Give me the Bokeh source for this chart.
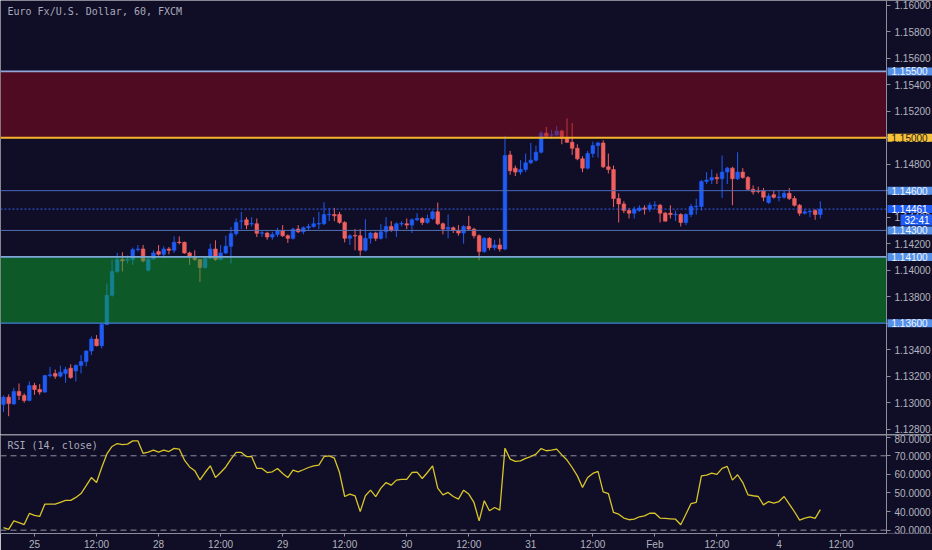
from bokeh.plotting import figure
from bokeh.models import (Range1d, FixedTicker, PrintfTickFormatter, Label,
                          ColumnDataSource)
from bokeh.layouts import column
from bokeh.embed import file_html
from bokeh.resources import INLINE

# ---------------- data (EUR/USD, 60 min, FXCM) ----------------
opens = [1.12987, 1.13042, 1.12990, 1.13085, 1.13055, 1.13017, 1.13130, 1.13100, 1.13080, 1.13205,
         1.13220, 1.13200, 1.13220, 1.13260, 1.13240, 1.13280, 1.13310, 1.13390, 1.13480, 1.13430,
         1.13590, 1.13810, 1.13990, 1.14080, 1.14075, 1.14080, 1.14155, 1.14160, 1.14000, 1.14085,
         1.14140, 1.14120, 1.14160, 1.14150, 1.14212, 1.14210, 1.14130, 1.14100, 1.14080, 1.14020,
         1.14090, 1.14160, 1.14080, 1.14130, 1.14180, 1.14275, 1.14370, 1.14380, 1.14348, 1.14350,
         1.14278, 1.14280, 1.14250, 1.14270, 1.14300, 1.14260, 1.14240, 1.14310, 1.14290, 1.14320,
         1.14330, 1.14348, 1.14350, 1.14418, 1.14420, 1.14420, 1.14360, 1.14240, 1.14262, 1.14260,
         1.14150, 1.14240, 1.14280, 1.14240, 1.14290, 1.14330, 1.14300, 1.14348, 1.14350, 1.14340,
         1.14380, 1.14390, 1.14360, 1.14390, 1.14440, 1.14350, 1.14310, 1.14320, 1.14300, 1.14280,
         1.14330, 1.14310, 1.14260, 1.14140, 1.14240, 1.14170, 1.14190, 1.14160, 1.14870, 1.14770,
         1.14740, 1.14760, 1.14810, 1.14830, 1.14890, 1.15035, 1.15018, 1.15020, 1.15050, 1.14995,
         1.14965, 1.14920, 1.14840, 1.14770, 1.14880, 1.14940, 1.14960, 1.14780, 1.14760, 1.14540,
         1.14500, 1.14450, 1.14430, 1.14450, 1.14470, 1.14460, 1.14488, 1.14490, 1.14430, 1.14430,
         1.14418, 1.14420, 1.14360, 1.14420, 1.14478, 1.14480, 1.14670, 1.14680, 1.14700, 1.14690,
         1.14740, 1.14770, 1.14690, 1.14740, 1.14700, 1.14610, 1.14598, 1.14600, 1.14510, 1.14570,
         1.14548, 1.14550, 1.14580, 1.14540, 1.14490, 1.14430, 1.14440, 1.14450, 1.14420]
highs = [1.13055, 1.13063, 1.13113, 1.13145, 1.13070, 1.13160, 1.13150, 1.13140, 1.13210, 1.13270,
         1.13250, 1.13280, 1.13270, 1.13290, 1.13290, 1.13360, 1.13395, 1.13500, 1.13510, 1.13595,
         1.13900, 1.14080, 1.14130, 1.14135, 1.14110, 1.14170, 1.14190, 1.14190, 1.14090, 1.14150,
         1.14190, 1.14180, 1.14175, 1.14255, 1.14255, 1.14215, 1.14140, 1.14150, 1.14085, 1.14095,
         1.14200, 1.14225, 1.14190, 1.14260, 1.14325, 1.14390, 1.14440, 1.14400, 1.14400, 1.14390,
         1.14300, 1.14290, 1.14290, 1.14320, 1.14340, 1.14270, 1.14320, 1.14340, 1.14330, 1.14350,
         1.14400, 1.14440, 1.14512, 1.14470, 1.14470, 1.14440, 1.14370, 1.14270, 1.14310, 1.14310,
         1.14385, 1.14290, 1.14290, 1.14350, 1.14400, 1.14370, 1.14360, 1.14370, 1.14390, 1.14390,
         1.14430, 1.14400, 1.14420, 1.14450, 1.14510, 1.14360, 1.14420, 1.14330, 1.14340, 1.14340,
         1.14410, 1.14320, 1.14270, 1.14250, 1.14250, 1.14230, 1.14240, 1.15015, 1.14900, 1.14790,
         1.14830, 1.14880, 1.14960, 1.14940, 1.15050, 1.15080, 1.15060, 1.15090, 1.15060, 1.15145,
         1.15110, 1.14950, 1.14860, 1.14900, 1.14970, 1.14970, 1.14980, 1.14880, 1.14790, 1.14580,
         1.14520, 1.14470, 1.14480, 1.14490, 1.14490, 1.14510, 1.14520, 1.14500, 1.14440, 1.14490,
         1.14450, 1.14430, 1.14430, 1.14500, 1.14540, 1.14680, 1.14740, 1.14760, 1.14730, 1.14865,
         1.14780, 1.14780, 1.14890, 1.14770, 1.14710, 1.14640, 1.14630, 1.14620, 1.14580, 1.14600,
         1.14600, 1.14600, 1.14620, 1.14560, 1.14500, 1.14460, 1.14455, 1.14460, 1.14520]
lows = [1.12929, 1.12898, 1.12985, 1.13020, 1.13000, 1.13010, 1.13060, 1.13060, 1.13075, 1.13190,
        1.13180, 1.13190, 1.13150, 1.13180, 1.13160, 1.13220, 1.13275, 1.13360, 1.13425, 1.13410,
        1.13585, 1.13800, 1.13980, 1.13990, 1.14050, 1.14040, 1.14140, 1.14060, 1.13990, 1.14080,
        1.14110, 1.14090, 1.14120, 1.14130, 1.14195, 1.14125, 1.14040, 1.14070, 1.13910, 1.14010,
        1.14085, 1.14070, 1.14075, 1.14120, 1.14050, 1.14260, 1.14310, 1.14310, 1.14330, 1.14250,
        1.14250, 1.14230, 1.14230, 1.14250, 1.14250, 1.14206, 1.14230, 1.14280, 1.14270, 1.14300,
        1.14320, 1.14310, 1.14340, 1.14370, 1.14370, 1.14350, 1.14210, 1.14190, 1.14150, 1.14110,
        1.14140, 1.14200, 1.14220, 1.14230, 1.14240, 1.14290, 1.14250, 1.14330, 1.14310, 1.14280,
        1.14370, 1.14340, 1.14350, 1.14380, 1.14340, 1.14270, 1.14240, 1.14280, 1.14260, 1.14200,
        1.14300, 1.14240, 1.14075, 1.14130, 1.14150, 1.14150, 1.14140, 1.14150, 1.14720, 1.14710,
        1.14720, 1.14740, 1.14800, 1.14820, 1.14880, 1.15000, 1.14990, 1.15010, 1.14950, 1.14960,
        1.14870, 1.14830, 1.14740, 1.14760, 1.14850, 1.14850, 1.14770, 1.14730, 1.14475, 1.14360,
        1.14430, 1.14390, 1.14390, 1.14440, 1.14420, 1.14440, 1.14460, 1.14360, 1.14370, 1.14390,
        1.14370, 1.14330, 1.14340, 1.14400, 1.14420, 1.14450, 1.14650, 1.14650, 1.14650, 1.14545,
        1.14650, 1.14490, 1.14680, 1.14690, 1.14600, 1.14570, 1.14580, 1.14520, 1.14500, 1.14540,
        1.14520, 1.14540, 1.14530, 1.14480, 1.14410, 1.14420, 1.14400, 1.14380, 1.14390]
closes = [1.13042, 1.12993, 1.13085, 1.13055, 1.13017, 1.13130, 1.13100, 1.13080, 1.13205, 1.13210,
          1.13200, 1.13230, 1.13250, 1.13190, 1.13280, 1.13310, 1.13390, 1.13480, 1.13430, 1.13590,
          1.13810, 1.13990, 1.14080, 1.14070, 1.14080, 1.14155, 1.14160, 1.14070, 1.14085, 1.14130,
          1.14120, 1.14160, 1.14150, 1.14210, 1.14208, 1.14130, 1.14100, 1.14080, 1.14020, 1.14090,
          1.14160, 1.14080, 1.14130, 1.14180, 1.14275, 1.14360, 1.14372, 1.14340, 1.14352, 1.14278,
          1.14282, 1.14250, 1.14270, 1.14300, 1.14260, 1.14240, 1.14310, 1.14290, 1.14320, 1.14330,
          1.14350, 1.14352, 1.14420, 1.14422, 1.14410, 1.14360, 1.14240, 1.14260, 1.14258, 1.14150,
          1.14240, 1.14280, 1.14240, 1.14290, 1.14330, 1.14300, 1.14350, 1.14352, 1.14340, 1.14380,
          1.14390, 1.14360, 1.14390, 1.14440, 1.14350, 1.14310, 1.14322, 1.14300, 1.14280, 1.14330,
          1.14310, 1.14260, 1.14140, 1.14240, 1.14170, 1.14190, 1.14160, 1.14865, 1.14750, 1.14740,
          1.14760, 1.14810, 1.14830, 1.14890, 1.15035, 1.15010, 1.15022, 1.15050, 1.14995, 1.14965,
          1.14920, 1.14840, 1.14770, 1.14880, 1.14940, 1.14960, 1.14780, 1.14760, 1.14540, 1.14500,
          1.14450, 1.14430, 1.14460, 1.14470, 1.14460, 1.14490, 1.14492, 1.14430, 1.14370, 1.14420,
          1.14422, 1.14360, 1.14420, 1.14480, 1.14482, 1.14670, 1.14680, 1.14700, 1.14690, 1.14740,
          1.14770, 1.14690, 1.14740, 1.14700, 1.14610, 1.14590, 1.14594, 1.14550, 1.14560, 1.14550,
          1.14552, 1.14580, 1.14540, 1.14490, 1.14430, 1.14440, 1.14445, 1.14420, 1.14461]
rsi = [31.4, 30.4, 35.0, 34.1, 33.0, 39.0, 38.0, 37.4, 44.0, 44.0,
       44.0, 45.0, 46.0, 46.0, 47.6, 49.7, 53.9, 58.3, 55.6, 63.7,
       71.0, 75.0, 76.6, 76.0, 76.3, 78.0, 78.0, 71.3, 72.0, 73.0,
       72.0, 73.0, 72.3, 74.0, 73.6, 67.7, 64.0, 62.0, 57.0, 61.0,
       64.6, 58.3, 61.0, 64.0, 68.2, 71.8, 71.8, 69.6, 69.6, 63.2,
       63.2, 61.0, 61.4, 63.2, 60.5, 58.3, 62.3, 61.4, 62.5, 63.7,
       64.6, 65.0, 69.5, 70.0, 68.7, 61.0, 48.1, 49.4, 48.5, 40.0,
       48.5, 51.5, 48.0, 52.6, 55.6, 54.2, 56.9, 57.3, 57.3, 61.0,
       61.2, 57.8, 61.0, 64.6, 52.6, 49.0, 50.3, 48.1, 46.7, 51.5,
       49.4, 44.9, 35.0, 45.8, 40.4, 42.2, 40.8, 74.1, 68.2, 67.0,
       67.3, 68.6, 69.6, 70.9, 73.9, 72.7, 73.0, 73.6, 70.5, 67.7,
       63.7, 59.2, 53.0, 58.3, 60.5, 61.6, 50.6, 49.7, 39.5, 38.6,
       36.5, 35.6, 35.9, 37.2, 37.7, 39.1, 39.1, 36.5, 36.3, 36.1,
       35.9, 32.9, 38.6, 44.3, 44.9, 59.2, 59.6, 60.7, 60.0, 63.2,
       64.3, 56.9, 59.8, 55.6, 49.0, 48.5, 48.1, 43.6, 45.4, 44.5,
       45.4, 48.1, 44.0, 39.9, 35.4, 36.5, 37.2, 36.3, 41.0]

time_tick_pos = [6, 18, 30, 42, 54, 66, 78, 90, 102, 114, 126, 138, 150, 162]
time_tick_labels = ["25", "12:00", "28", "12:00", "29", "12:00", "30", "12:00",
                    "31", "12:00", "Feb", "12:00", "4", "12:00"]
price_ticks = [1.128, 1.130, 1.132, 1.134, 1.136, 1.138, 1.140, 1.142, 1.144,
               1.146, 1.148, 1.150, 1.152, 1.154, 1.156, 1.158, 1.160]
rsi_ticks = [30, 40, 50, 60, 70, 80]
rsi_bands = [70, 30]

zone_bottoms = [1.15000, 1.13600]
zone_tops = [1.15500, 1.14100]
zone_colors = ["#8c0a1c", "#0aa52a"]
levels = [1.15500, 1.15000, 1.14600, 1.14300, 1.14100, 1.13600]
level_colors = ["#93a6dc", "#f7b52c", "#4a6ab8", "#5472b4", "#7ea6d8", "#3f7fd6"]
level_widths = [1.6, 2.0, 1.0, 1.0, 1.6, 1.2]
level_box_bg = ["#5591e8", "#f8c23a", "#5591e8", "#5591e8", "#5591e8", "#5591e8"]
level_box_fg = ["#eef3ff", "#2a2410", "#eef3ff", "#eef3ff", "#eef3ff", "#eef3ff"]
last_price = 1.14461
countdown = "32:41"
title_text = "Euro Fx/U.S. Dollar, 60, FXCM"
rsi_title = "RSI (14, close)"

# ---------------- styling / layout ----------------
BG = "#100d27"
UP = "#1f5cf5"
DOWN = "#f0605e"
AX = "#8c8f9c"
TXT = "#b2b5be"
FONT = "Liberation Sans"
W = 932            # frame spans the whole width; price scale is drawn inside it
X0, X1 = -0.58, 179.7
AXIS_X = 170.8     # bar-index position of the price-scale line

xs = list(range(len(closes)))
colors = [UP if c >= o else DOWN for o, c in zip(opens, closes)]
tops = [max(o, c) for o, c in zip(opens, closes)]
bots = [min(o, c) for o, c in zip(opens, closes)]
src = ColumnDataSource(dict(x=xs, h=highs, l=lows, top=tops, bot=bots, col=colors))

xr = Range1d(X0, X1)

p = figure(frame_width=W, frame_height=434, x_range=xr,
           y_range=Range1d(1.1276, 1.16035), output_backend="svg",
           toolbar_location=None, y_axis_location="right", x_axis_location=None,
           min_border_left=0, min_border_right=0, min_border_top=0, min_border_bottom=0)
p.background_fill_color = BG
p.border_fill_color = BG
p.outline_line_color = None
p.grid.grid_line_color = None

p.segment(x0="x", y0="l", x1="x", y1="h", color="col", line_width=1, source=src)
p.vbar(x="x", width=0.7, top="top", bottom="bot", fill_color="col",
       line_color="col", line_width=0.6, source=src)

# zones (semi transparent, over the candles)
p.quad(left=[X0] * len(zone_tops), right=[AXIS_X] * len(zone_tops),
       bottom=zone_bottoms, top=zone_tops, fill_color=zone_colors,
       fill_alpha=0.5, line_color=None)
# horizontal levels
p.segment(x0=[X0] * len(levels), x1=[AXIS_X] * len(levels), y0=levels, y1=levels,
          line_color=level_colors, line_width=level_widths)
p.segment(x0=[X0], x1=[AXIS_X], y0=[last_price], y1=[last_price],
          line_color="#3563f0", line_width=1, line_dash="2 2")

ax = p.yaxis[0]
ax.fixed_location = AXIS_X
ax.ticker = FixedTicker(ticks=price_ticks)
ax.formatter = PrintfTickFormatter(format="%.5f")
ax.axis_line_color = AX
ax.major_tick_line_color = AX
ax.minor_tick_line_color = None
ax.major_tick_in = 0
ax.major_tick_out = 4
ax.major_label_standoff = 4
ax.major_label_text_color = TXT
ax.major_label_text_font = FONT
ax.major_label_text_font_size = "10px"

PAD = dict(left=4, right=5, top=0, bottom=0)


def axis_box(y, text, bg, fg, dx=0, dy=0):
    p.add_layout(Label(x=AXIS_X, y=y, text=text, x_offset=1 + dx, y_offset=dy,
                       text_align="left", text_baseline="middle",
                       text_font=FONT, text_font_size="10px", text_color=fg,
                       background_fill_color=bg, padding=PAD))


axis_box(last_price, countdown, "#1f5cf5", "#ffffff", dx=13, dy=-11)
for lv, bg, fg in zip(levels, level_box_bg, level_box_fg):
    axis_box(lv, f"{lv:.5f}", bg, fg)
axis_box(last_price, f"{last_price:.5f}", "#1f5cf5", "#ffffff")

p.add_layout(Label(x=X0, y=1.16035, text=title_text, x_offset=7, y_offset=-5,
                   text_align="left", text_baseline="top",
                   text_font="DejaVu Sans Mono", text_font_size="10px",
                   text_color="#a9abb8"))

# ---------------- RSI pane ----------------
RSI_TOP = 81.45
r = figure(frame_width=W, frame_height=99, x_range=xr,
           y_range=Range1d(28.2, RSI_TOP), output_backend="svg",
           toolbar_location=None, y_axis_location="right",
           min_border_left=0, min_border_right=0, min_border_top=0, min_border_bottom=16)
r.background_fill_color = BG
r.border_fill_color = BG
r.outline_line_color = None
r.grid.grid_line_color = None

# pane separator across the full width
r.segment(x0=[X0], x1=[X1], y0=[81.2], y1=[81.2], line_color="#9a9caa", line_width=1)
r.segment(x0=[X0] * len(rsi_bands), x1=[AXIS_X] * len(rsi_bands), y0=rsi_bands,
          y1=rsi_bands, line_color="#8d8f9c", line_width=1, line_dash="6 4")
r.line(xs, rsi, line_color="#d8c52a", line_width=1.3)

ry = r.yaxis[0]
ry.fixed_location = AXIS_X
ry.ticker = FixedTicker(ticks=rsi_ticks)
ry.formatter = PrintfTickFormatter(format="%.4f")
rx = r.xaxis[0]
rx.bounds = (X0, AXIS_X)
rx.ticker = FixedTicker(ticks=time_tick_pos)
rx.major_label_overrides = {pos: lab for pos, lab in zip(time_tick_pos, time_tick_labels)}
for a in (ry, rx):
    a.axis_line_color = AX
    a.major_tick_line_color = AX
    a.minor_tick_line_color = None
    a.major_tick_in = 0
    a.major_tick_out = 3
    a.major_label_standoff = 2
    a.major_label_text_color = TXT
    a.major_label_text_font = FONT
    a.major_label_text_font_size = "10px"
ry.major_tick_out = 4
ry.major_label_standoff = 4

r.add_layout(Label(x=X0, y=RSI_TOP, text=rsi_title, x_offset=7, y_offset=-5,
                   text_align="left", text_baseline="top",
                   text_font="DejaVu Sans Mono", text_font_size="10px",
                   text_color="#a9abb8"))

layout = column(p, r, spacing=0)
open("out.html", "w").write(file_html(layout, INLINE))
